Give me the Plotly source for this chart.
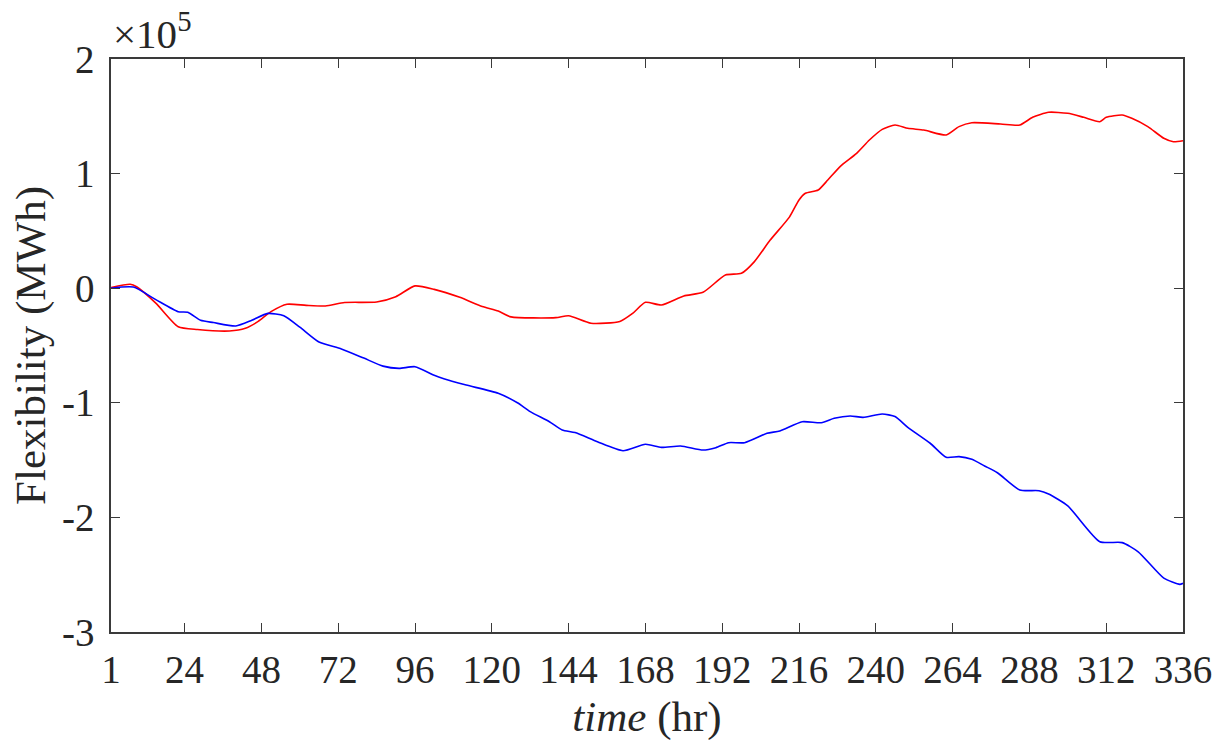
import plotly.graph_objects as go

# Cumulative flexibility over a two-week horizon (MWh)
hours_blue = [1, 8, 15, 22, 25, 29, 33, 40, 45, 50, 55, 60, 66, 73, 80, 86, 91, 96,
              102, 105, 112, 122, 128, 132, 138, 142, 146, 153, 161, 168, 173, 179,
              186, 190, 194, 199, 206, 210, 217, 223, 227, 232, 236, 242, 246, 250,
              257, 262, 266, 270, 274, 278, 285, 291, 294, 300, 310, 317, 322, 330,
              335, 336]
flex_blue = [0, 1000, -10000, -20500, -21000, -28000, -30000, -33000, -28000, -22000,
             -24000, -34000, -47000, -53000, -61000, -68000, -70000, -68500, -76000,
             -79000, -84500, -91700, -100000, -107700, -116500, -123700, -126000,
             -134000, -141800, -136200, -138900, -137700, -141200, -139200, -134800,
             -134800, -126600, -124600, -116500, -117400, -113500, -111500, -112700,
             -109800, -112000, -121400, -135300, -147600, -147000, -149300, -155100,
             -161000, -176100, -176700, -179600, -190000, -221200, -222000, -230000,
             -253000, -258400, -257500]

hours_red = [1, 7, 9, 15, 22, 28, 38, 43, 47, 51, 56, 62, 68, 74, 84, 90, 96, 102,
             110, 117, 122, 126, 140, 144, 151, 160, 164, 168, 173, 180, 186, 193,
             198, 202, 207, 213, 216, 218, 222, 225, 229, 234, 238, 242, 246, 250,
             255, 262, 266, 270, 279, 285, 289, 294, 300, 305, 310, 312, 317, 320,
             325, 330, 333, 336]
flex_red = [500, 3400, 1300, -13000, -33600, -36000, -37300, -35000, -29000, -20500,
            -14000, -15000, -15500, -12500, -12000, -7400, 2000, -1000, -8000, -16000,
            -20000, -25000, -25700, -24000, -30600, -29000, -22000, -12300, -14700,
            -6800, -3600, 11500, 13000, 23000, 42000, 62000, 77000, 82800, 85700,
            94400, 106600, 117700, 129300, 138600, 142400, 139500, 138000, 133700,
            141000, 144400, 143300, 142400, 149100, 153500, 152600, 149100, 145300,
            149100, 151100, 148200, 141000, 130800, 127800, 128700]

x_ticks = [1, 24, 48, 72, 96, 120, 144, 168, 192, 216, 240, 264, 288, 312, 336]
y_ticks = [-300000, -200000, -100000, 0, 100000, 200000]
y_tick_text = ["-3", "-2", "-1", "0", "1", "2"]

FONT = "Liberation Serif, Times New Roman, serif"
AXIS_COLOR = "#3a3a3a"
TEXT_COLOR = "#262626"

fig = go.Figure()
fig.add_trace(go.Scatter(x=hours_red, y=flex_red, mode="lines",
                         line=dict(color="#ff0000", width=1.6, shape="spline", smoothing=0.6),
                         showlegend=False))
fig.add_trace(go.Scatter(x=hours_blue, y=flex_blue, mode="lines",
                         line=dict(color="#0000ff", width=1.6, shape="spline", smoothing=0.6),
                         showlegend=False))

fig.update_layout(
    width=1217, height=741,
    margin=dict(l=111, r=34, t=59, b=109),
    paper_bgcolor="white", plot_bgcolor="white",
    font=dict(family=FONT, size=39, color=TEXT_COLOR),
    xaxis=dict(
        range=[1, 336], tickvals=x_ticks, ticks="inside", ticklen=9,
        tickcolor=AXIS_COLOR, tickwidth=1.3, showline=True, linecolor=AXIS_COLOR,
        linewidth=1.5, mirror="ticks", showgrid=False, zeroline=False,
        ticklabelstandoff=2, automargin=False,
        title=dict(text="<i>time</i> (hr)", font=dict(size=43), standoff=12),
    ),
    yaxis=dict(
        range=[-300000, 200000], tickvals=y_ticks, ticktext=y_tick_text,
        ticks="inside", ticklen=9, tickcolor=AXIS_COLOR, tickwidth=1.3,
        showline=True, linecolor=AXIS_COLOR, linewidth=1.5, mirror="ticks",
        showgrid=False, zeroline=False, ticklabelstandoff=7, automargin=False,
        title=dict(text="Flexibility (MWh)", font=dict(size=43), standoff=3),
    ),
    annotations=[dict(
        text="×10<sup>5</sup>", xref="paper", yref="paper", x=0, y=1,
        xanchor="left", yanchor="bottom", showarrow=False, yshift=0,
        font=dict(family=FONT, size=41, color=TEXT_COLOR),
    )],
)

fig.write_html("out.html")
